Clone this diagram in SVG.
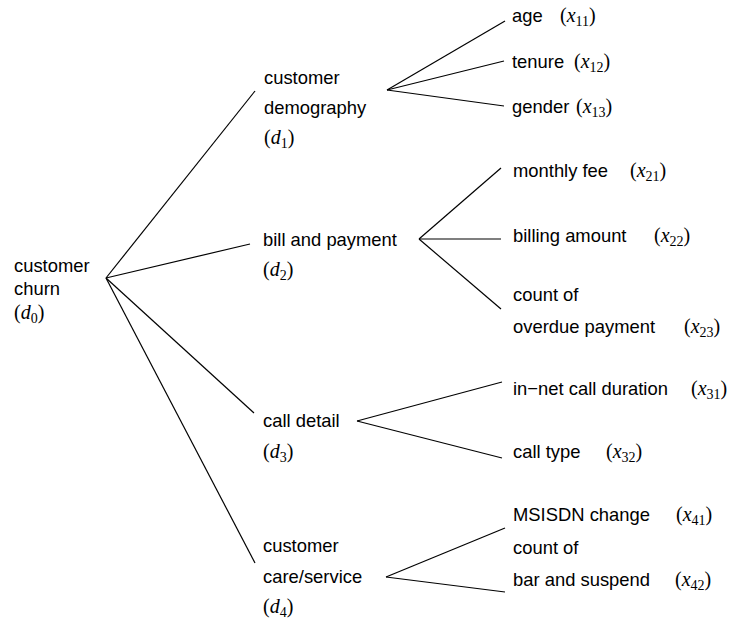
<svg xmlns="http://www.w3.org/2000/svg" width="739" height="630" viewBox="0 0 739 630">
<style>
.t{font-family:"Liberation Sans",Arial,sans-serif;font-size:18.4px;fill:#000}
.m{font-family:"Liberation Serif","Times New Roman",serif;font-size:20px;fill:#000}
.i{font-style:italic}
.s{font-size:14px}
.c line{stroke:#000;stroke-width:1.2}
</style>
<rect width="739" height="630" fill="#fff"/>
<g class="c" id="connectors">
<line x1="106" y1="278" x2="255" y2="91"/>
<line x1="106" y1="278" x2="250" y2="244"/>
<line x1="106" y1="278" x2="254" y2="413"/>
<line x1="106" y1="278" x2="255" y2="563"/>
<line x1="387" y1="90" x2="505" y2="21"/>
<line x1="387" y1="90" x2="504" y2="61"/>
<line x1="387" y1="90" x2="504" y2="106"/>
<line x1="419" y1="239" x2="501" y2="168"/>
<line x1="419" y1="239" x2="501" y2="239"/>
<line x1="419" y1="239" x2="501" y2="309"/>
<line x1="357" y1="421" x2="502" y2="382"/>
<line x1="357" y1="421" x2="502" y2="458"/>
<line x1="386" y1="577" x2="505" y2="528"/>
<line x1="386" y1="577" x2="505" y2="592"/>
</g>
<g id="d0">
<text class="t" x="14" y="272">customer</text>
<text class="t" x="14" y="295">churn</text>
<text class="m" x="14" y="319">(<tspan class="i">d</tspan><tspan class="s" dy="4">0</tspan><tspan dy="-4">)</tspan></text>
</g>
<g id="d1">
<text class="t" x="264" y="84">customer</text>
<text class="t" x="264" y="114">demography</text>
<text class="m" x="264" y="144">(<tspan class="i">d</tspan><tspan class="s" dy="4">1</tspan><tspan dy="-4">)</tspan></text>
</g>
<g id="d2">
<text class="t" x="263" y="246">bill and payment</text>
<text class="m" x="263" y="276">(<tspan class="i">d</tspan><tspan class="s" dy="4">2</tspan><tspan dy="-4">)</tspan></text>
</g>
<g id="d3">
<text class="t" x="263" y="427">call detail</text>
<text class="m" x="263" y="458">(<tspan class="i">d</tspan><tspan class="s" dy="4">3</tspan><tspan dy="-4">)</tspan></text>
</g>
<g id="d4">
<text class="t" x="263" y="552">customer</text>
<text class="t" x="263" y="583">care/service</text>
<text class="m" x="263" y="613">(<tspan class="i">d</tspan><tspan class="s" dy="4">4</tspan><tspan dy="-4">)</tspan></text>
</g>
<g id="x11">
<text class="t" x="512" y="22">age</text>
<text class="m" x="560" y="22">(<tspan class="i">x</tspan><tspan class="s" dy="4">11</tspan><tspan dy="-4">)</tspan></text>
</g>
<g id="x12">
<text class="t" x="512" y="68">tenure</text>
<text class="m" x="574" y="68">(<tspan class="i">x</tspan><tspan class="s" dy="4">12</tspan><tspan dy="-4">)</tspan></text>
</g>
<g id="x13">
<text class="t" x="512" y="113">gender</text>
<text class="m" x="576" y="113">(<tspan class="i">x</tspan><tspan class="s" dy="4">13</tspan><tspan dy="-4">)</tspan></text>
</g>
<g id="x21">
<text class="t" x="513" y="177">monthly fee</text>
<text class="m" x="630" y="177">(<tspan class="i">x</tspan><tspan class="s" dy="4">21</tspan><tspan dy="-4">)</tspan></text>
</g>
<g id="x22">
<text class="t" x="513" y="242">billing amount</text>
<text class="m" x="654" y="242">(<tspan class="i">x</tspan><tspan class="s" dy="4">22</tspan><tspan dy="-4">)</tspan></text>
</g>
<g id="x23">
<text class="t" x="513" y="301">count of</text>
<text class="t" x="513" y="333">overdue payment</text>
<text class="m" x="684" y="333">(<tspan class="i">x</tspan><tspan class="s" dy="4">23</tspan><tspan dy="-4">)</tspan></text>
</g>
<g id="x31">
<text class="t" x="513" y="395">in−net call duration</text>
<text class="m" x="691" y="395">(<tspan class="i">x</tspan><tspan class="s" dy="4">31</tspan><tspan dy="-4">)</tspan></text>
</g>
<g id="x32">
<text class="t" x="513" y="458">call type</text>
<text class="m" x="606" y="458">(<tspan class="i">x</tspan><tspan class="s" dy="4">32</tspan><tspan dy="-4">)</tspan></text>
</g>
<g id="x41">
<text class="t" x="513" y="521">MSISDN change</text>
<text class="m" x="676" y="521">(<tspan class="i">x</tspan><tspan class="s" dy="4">41</tspan><tspan dy="-4">)</tspan></text>
</g>
<g id="x42">
<text class="t" x="513" y="554">count of</text>
<text class="t" x="513" y="586">bar and suspend</text>
<text class="m" x="675" y="586">(<tspan class="i">x</tspan><tspan class="s" dy="4">42</tspan><tspan dy="-4">)</tspan></text>
</g>
</svg>
